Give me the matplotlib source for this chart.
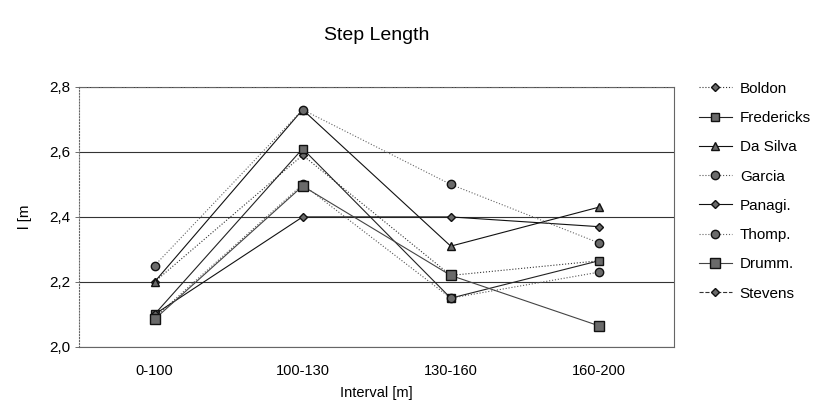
import numpy as np
import matplotlib.pyplot as plt

plt.rcParams['font.family'] = ['Liberation Sans', 'DejaVu Sans']

intervals = ['0-100', '100-130', '130-160', '160-200']

boldon = [2.20, 2.59, 2.22, 2.265]
fredericks = [2.10, 2.61, 2.15, 2.265]
da_silva = [2.20, 2.73, 2.31, 2.43]
garcia = [2.09, 2.50, 2.15, 2.23]
panagi = [2.10, 2.40, 2.40, 2.37]
thomp = [2.25, 2.73, 2.50, 2.32]
drumm = [2.085, 2.495, 2.22, 2.065]
stevens = [np.nan, np.nan, np.nan, np.nan]

names = ['Boldon', 'Fredericks', 'Da Silva', 'Garcia', 'Panagi.', 'Thomp.', 'Drumm.', 'Stevens']
series = [boldon, fredericks, da_silva, garcia, panagi, thomp, drumm, stevens]
markers = ['D', 's', '^', 'o', 'D', 'o', 's', 'D']
styles = [':', '-', '-', ':', '-', ':', '-', '--']
colors = ['#333333', '#222222', '#111111', '#555555', '#111111', '#666666', '#444444', '#333333']
msizes = [4, 6, 6, 6, 4, 6, 7, 4]

fig = plt.figure(figsize=(8.27, 4.12), dpi=100)
ax = fig.add_axes([0.0955, 0.158, 0.72, 0.631])

x = np.arange(len(intervals))
for vals, name, m, ls, c, ms in zip(series, names, markers, styles, colors, msizes):
    ax.plot(x, vals, linestyle=ls, color=c, lw=0.8, marker=m, markersize=ms,
            markerfacecolor='#6a6a6a', markeredgecolor='#111111', markeredgewidth=1.0,
            label=name)

ax.set_xlim(-0.51, 3.51)
ax.set_ylim(2.0, 2.8)
ax.set_yticks([2.0, 2.2, 2.4, 2.6, 2.8])
ax.set_yticklabels(['2,0', '2,2', '2,4', '2,6', '2,8'], fontsize=11)
ax.set_xticks(x)
ax.set_xticklabels(intervals, fontsize=10.5)
ax.tick_params(axis='x', length=0, pad=12)
ax.tick_params(axis='y', length=3, width=0.6, color='#555555')
ax.yaxis.grid(True, color='#333333', lw=0.8)
ax.set_axisbelow(True)
for s in ax.spines.values():
    s.set_color('#666666')
    s.set_linewidth(0.8)
ax.spines['left'].set_linestyle(':')
ax.spines['top'].set_linestyle('-.')

ax.set_xlabel('Interval [m]', fontsize=10.5, labelpad=6)
ax.set_ylabel('l [m', fontsize=11, labelpad=12)
fig.suptitle('Step Length', fontsize=14, x=0.455, y=0.935)

fig.legend(loc='upper left', bbox_to_anchor=(0.828, 0.835), frameon=False,
           fontsize=11, handlelength=2.2, labelspacing=1.0, handletextpad=0.5)

fig.savefig('out.png', dpi=100)
